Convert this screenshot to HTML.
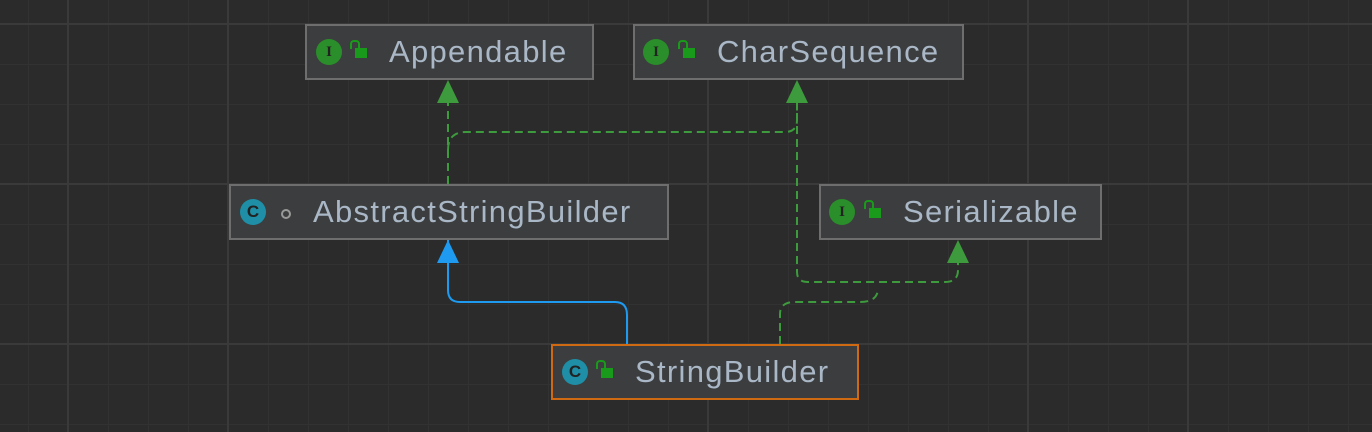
<!DOCTYPE html><html><head><style>
body{margin:0;width:1372px;height:432px;overflow:hidden;background:#2b2b2b;font-family:"Liberation Sans",sans-serif}
.b{position:absolute;box-sizing:border-box;background:#3c3d3e;border:2px solid #6e6e6e;height:56px;color:#a9b7c6;font-size:31px;letter-spacing:1.3px;line-height:52px;white-space:nowrap}
.ic{position:absolute;top:13px;width:26px;height:26px;border-radius:50%;font-size:15px;line-height:26px;text-align:center;color:#222;font-family:"Liberation Serif",serif;font-weight:bold;letter-spacing:0}
.g{background:#2a8f2a}.c{background:#1e8fa6;font-family:"Liberation Sans";font-size:17px}
.lk{position:absolute;top:22px;width:12px;height:10px;background:#1a9a1a}
.lk:before{content:"";position:absolute;left:-5px;top:-8px;width:6px;height:7px;border:2px solid #1a9a1a;border-bottom:none;border-radius:4px 4px 0 0}
.t{position:absolute;top:0}
</style></head><body>
<svg width="1372" height="432" style="position:absolute;left:0;top:0">
<defs><pattern id="m" width="40" height="40" patternUnits="userSpaceOnUse" x="28" y="24"><path d="M0 0H40M0 0V40" stroke="#323232" stroke-width="2" fill="none"/></pattern></defs>
<rect width="1372" height="432" fill="url(#m)"/>
<g stroke="#3a3a3a" stroke-width="2"><path d="M228 0V432M708 0V432M1028 0V432M1188 0V432M68 0V432M0 184H1372M0 344H1372M0 24H1372"/></g>
<g fill="none" stroke="#3d9a3d" stroke-width="2" stroke-dasharray="8,5">
<path d="M448 184V100"/>
<path d="M448 150Q448 132 466 132H785Q797 132 797 120V100"/>
<path d="M797 100V272Q797 282 808 282H870L945 282Q958 282 958 270V262"/>
<path d="M780 344V314Q780 302 795 302H860Q878 302 878 288"/>
</g>
<path d="M448 240V290Q448 302 460 302H615Q627 302 627 315V344" fill="none" stroke="#1e9bf0" stroke-width="2"/>
<path d="M448 80L437 103H459Z" fill="#3d9a3d"/>
<path d="M797 80L786 103H808Z" fill="#3d9a3d"/>
<path d="M958 240L947 263H969Z" fill="#3d9a3d"/>
<path d="M448 240L437 263H459Z" fill="#1e9bf0"/>
</svg>
<div class="b" style="left:305px;top:24px;width:289px"><div class="ic g" style="left:9px">I</div><div class="lk" style="left:48px"></div><div class="t" style="left:82px">Appendable</div></div>
<div class="b" style="left:633px;top:24px;width:331px"><div class="ic g" style="left:8px">I</div><div class="lk" style="left:48px"></div><div class="t" style="left:82px">CharSequence</div></div>
<div class="b" style="left:229px;top:184px;width:440px"><div class="ic c" style="left:9px">C</div><div style="position:absolute;left:50px;top:23px;width:6px;height:6px;border:2px solid #999;border-radius:50%"></div><div class="t" style="left:82px">AbstractStringBuilder</div></div>
<div class="b" style="left:819px;top:184px;width:283px"><div class="ic g" style="left:8px">I</div><div class="lk" style="left:48px"></div><div class="t" style="left:82px">Serializable</div></div>
<div class="b" style="left:551px;top:344px;width:308px;border-color:#d06a12"><div class="ic c" style="left:9px">C</div><div class="lk" style="left:48px"></div><div class="t" style="left:82px">StringBuilder</div></div>
</body></html>
